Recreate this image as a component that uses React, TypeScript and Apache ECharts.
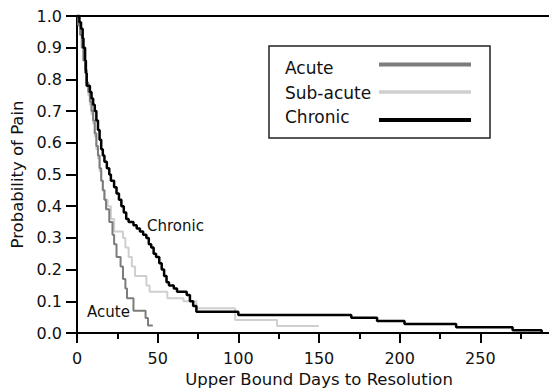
import React, { useEffect, useRef } from "react";
import * as echarts from "echarts";

// Kaplan-Meier style step data: [day, probability]
const acuteDays = [0, 1, 2, 3, 4, 5, 6, 7, 8, 9, 10, 11, 12, 13, 14, 15, 16, 17, 18, 20, 22, 23, 24.5, 27, 28.5, 30, 31, 35, 42.5, 44, 47];
const acuteProb = [1.0, 0.97, 0.94, 0.9, 0.86, 0.83, 0.79, 0.76, 0.73, 0.7, 0.67, 0.63, 0.59, 0.56, 0.52, 0.48, 0.45, 0.42, 0.39, 0.35, 0.31, 0.28, 0.24, 0.21, 0.17, 0.14, 0.11, 0.07, 0.047, 0.024, 0.024];

const subAcuteDays = [0, 1, 2, 3, 4, 5, 6, 7, 8, 9, 10, 11, 12, 13, 14, 15, 16, 17, 19, 21, 23, 28.5, 30, 32, 34, 36, 43, 45, 56, 66, 74, 98, 124, 150];
const subAcuteProb = [1.0, 0.97, 0.94, 0.9, 0.86, 0.82, 0.78, 0.75, 0.72, 0.69, 0.66, 0.62, 0.58, 0.55, 0.51, 0.48, 0.45, 0.42, 0.4, 0.36, 0.32, 0.3, 0.27, 0.24, 0.21, 0.18, 0.15, 0.13, 0.11, 0.1, 0.078, 0.041, 0.022, 0.022];

const chronicDays = [0, 1.5, 2.5, 3.5, 4, 5, 5.5, 6, 8, 9, 10, 11, 12, 13, 14, 15, 16, 17, 18.5, 20, 21, 23, 24.5, 26, 27.5, 29, 30.5, 32, 35, 37, 39, 41, 43, 44.5, 46, 47.5, 49, 51, 52.5, 54, 55.5, 57, 60, 62, 68, 70, 72, 74, 100, 170, 186, 203, 235, 270, 288];
const chronicProb = [1.0, 0.98, 0.96, 0.93, 0.9, 0.86, 0.82, 0.78, 0.76, 0.74, 0.72, 0.7, 0.67, 0.64, 0.61, 0.58, 0.56, 0.54, 0.52, 0.5, 0.48, 0.46, 0.44, 0.42, 0.4, 0.38, 0.36, 0.35, 0.34, 0.33, 0.32, 0.31, 0.3, 0.28, 0.27, 0.25, 0.24, 0.22, 0.2, 0.18, 0.16, 0.15, 0.14, 0.13, 0.12, 0.1, 0.085, 0.067, 0.057, 0.048, 0.038, 0.028, 0.018, 0.009, 0];

const legendNames = ["Acute", "Sub-acute", "Chronic"];
const seriesColors = ["#7c7c7c", "#cfcfcf", "#000000"];

const FONT = "DejaVu Sans";

function zip(xs: number[], ys: number[]) {
  return xs.map((x, i) => [x, ys[i]]);
}

export default function App() {
  const ref = useRef<HTMLDivElement>(null);
  useEffect(() => {
    if (!ref.current) return;
    const chart = echarts.init(ref.current, undefined, { renderer: "svg" });
    const mkSeries = (name: string, data: number[][], color: string, width: number, z: number) => ({
      type: "line",
      name,
      data,
      step: "end",
      showSymbol: false,
      symbol: "none",
      lineStyle: { color, width },
      z,
      clip: false,
    });
    chart.setOption({
      animation: false,
      backgroundColor: "#ffffff",
      grid: { left: 77, right: -12, top: 16, bottom: 55, containLabel: false, outerBoundsMode: "none" },
      xAxis: [
        {
          type: "value",
          min: 0,
          max: 300,
          interval: 50,
          position: "bottom",
          name: "Upper Bound Days to Resolution",
          nameLocation: "middle",
          nameGap: 36,
          nameTextStyle: { fontFamily: FONT, fontSize: 16.5, color: "#111" },
          axisLine: { show: true, lineStyle: { color: "#000", width: 2 } },
          axisTick: { show: true, length: 10, lineStyle: { color: "#000", width: 2 } },
          minorTick: { show: true, splitNumber: 2, length: 6, lineStyle: { color: "#000", width: 2 } },
          axisLabel: {
            fontFamily: FONT,
            fontSize: 16,
            color: "#111",
            margin: 17,
            formatter: (v: number) => (v === 300 ? "" : String(v)),
          },
          splitLine: { show: false },
        },
        {
          type: "value",
          min: 0,
          max: 300,
          position: "top",
          axisLine: { show: true, lineStyle: { color: "#000", width: 2 } },
          axisTick: { show: false },
          axisLabel: { show: false },
          splitLine: { show: false },
        },
      ],
      yAxis: {
        type: "value",
        min: 0,
        max: 1,
        interval: 0.1,
        name: "Probability of Pain",
        nameLocation: "middle",
        nameGap: 48,
        nameTextStyle: { fontFamily: FONT, fontSize: 16.5, color: "#111" },
        axisLine: { show: true, lineStyle: { color: "#000", width: 2 } },
        axisTick: { show: true, length: 11, lineStyle: { color: "#000", width: 2 } },
        axisLabel: {
          fontFamily: FONT,
          fontSize: 16,
          color: "#111",
          margin: 15,
          formatter: (v: number) => v.toFixed(1),
        },
        splitLine: { show: false },
      },
      series: [
        mkSeries(legendNames[1], zip(subAcuteDays, subAcuteProb), seriesColors[1], 2, 2),
        mkSeries(legendNames[0], zip(acuteDays, acuteProb), seriesColors[0], 2, 3),
        mkSeries(legendNames[2], zip(chronicDays, chronicProb), seriesColors[2], 2.5, 4),
      ],
      graphic: [
        {
          type: "rect",
          shape: { x: 269, y: 46, width: 221, height: 92 },
          style: { fill: "#fff", stroke: "#222", lineWidth: 1.5 },
          z: 10,
        },
        ...legendNames.map((n, i) => ({
          type: "text",
          x: 285,
          y: [68, 93, 117][i],
          style: { text: n, fontFamily: FONT, fontSize: 17, fill: "#111", verticalAlign: "middle", align: "left" },
          z: 11,
        })),
        ...legendNames.map((n, i) => ({
          type: "line",
          shape: { x1: 379, y1: [64.5, 92, 120][i], x2: 471, y2: [64.5, 92, 120][i] },
          style: { stroke: seriesColors[i], lineWidth: [4, 3.5, 4][i] },
          z: 11,
        })),
        {
          type: "text",
          x: 147,
          y: 226,
          style: { text: "Chronic", fontFamily: FONT, fontSize: 15, fill: "#111", verticalAlign: "middle" },
          z: 11,
        },
        {
          type: "text",
          x: 87,
          y: 312,
          style: { text: "Acute", fontFamily: FONT, fontSize: 15, fill: "#111", verticalAlign: "middle" },
          z: 11,
        },
      ],
    });
    return () => chart.dispose();
  }, []);
  return (
    <div
      ref={ref}
      style={{ position: "fixed", left: 0, top: 0, width: 549, height: 388, background: "#fff" }}
    />
  );
}
